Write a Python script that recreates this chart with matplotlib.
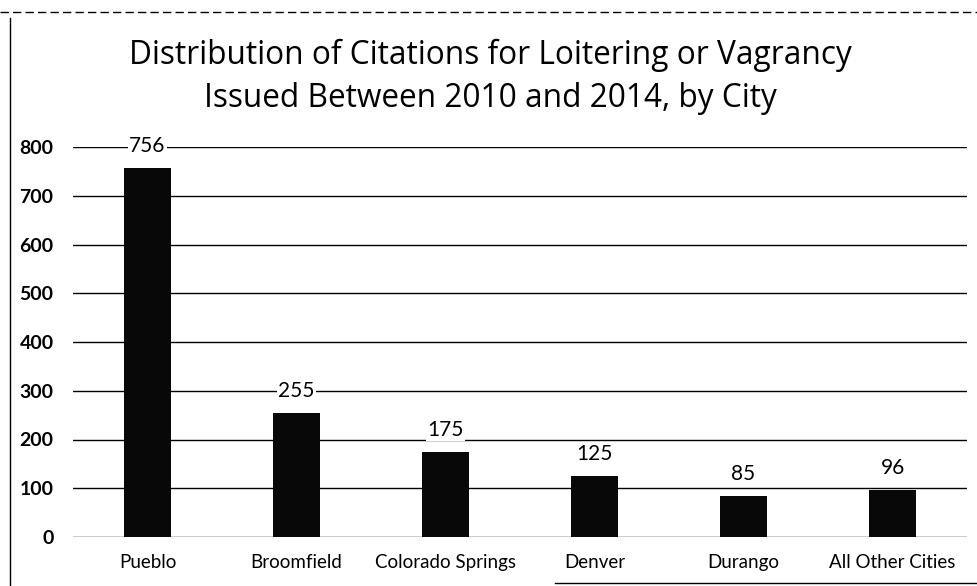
import matplotlib
matplotlib.use("Agg")
import matplotlib.pyplot as plt
from matplotlib.lines import Line2D

cities = ["Pueblo", "Broomfield", "Colorado Springs", "Denver", "Durango", "All Other Cities"]
citations = [756, 255, 175, 125, 85, 96]
yticks = [0, 100, 200, 300, 400, 500, 600, 700, 800]
title = "Distribution of Citations for Loitering or Vagrancy\nIssued Between 2010 and 2014, by City"

plt.rcParams['font.family'] = ['Lato', 'DejaVu Sans']

fig = plt.figure(figsize=(9.77, 5.86), dpi=100)
ax = fig.add_axes([73/977, 1-537/586, (967-73)/977, (537-147)/586])

x = list(range(len(cities)))
ax.bar(x, citations, width=0.315, color='#080808', zorder=3)
ax.set_xlim(-0.5, len(cities)-0.5)
ax.set_ylim(0, 800)
ax.set_yticks(yticks)
ax.set_yticklabels([str(t) for t in yticks], fontsize=14, fontweight='bold')
ax.set_xticks(x)
ax.set_xticklabels(cities, fontsize=13.5)
ax.tick_params(axis='both', length=0, colors='black')
ax.tick_params(axis='y', pad=14)
ax.tick_params(axis='x', pad=12)
ax.yaxis.grid(True, color='black', linewidth=1.0, zorder=0)
ax.set_axisbelow(True)
for s in ax.spines.values():
    s.set_visible(False)

for xi, v in zip(x, citations):
    ax.annotate(str(v), (xi, v), xytext=(0, 22), textcoords='offset pixels',
                ha='center', va='center', fontsize=15,
                bbox=dict(facecolor='white', edgecolor='none', pad=1.0), zorder=4)

fig.text(490/977, 1-77/586, title, ha='center', va='center', fontsize=22.8,
         linespacing=1.42, family=['Open Sans', 'DejaVu Sans'])

# scanned frame edges
fig.add_artist(Line2D([10/977, 10/977], [0, 1-18/586], transform=fig.transFigure,
                      color='black', lw=1))
fig.add_artist(Line2D([0, 1], [1-12/586, 1-12/586], transform=fig.transFigure,
                      color='black', lw=1, linestyle=(0, (6, 3))))
fig.add_artist(Line2D([555/977, 1], [1-583/586, 1-583/586], transform=fig.transFigure,
                      color='black', lw=1))

fig.savefig("out.png", dpi=100, facecolor='white')
